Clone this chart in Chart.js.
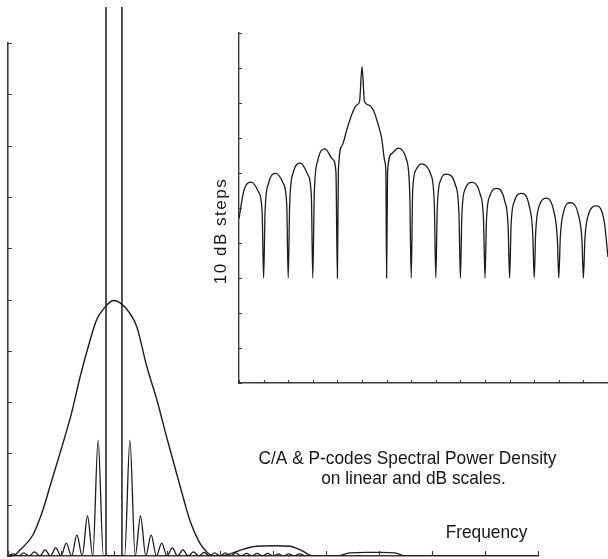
<!DOCTYPE html>
<html>
<head>
<meta charset="utf-8">
<script src="https://cdn.jsdelivr.net/npm/chart.js@4.4.1/dist/chart.umd.min.js"></script>
<style>
  html, body { margin: 0; padding: 0; background: #fff; }
  #wrap { position: relative; width: 608px; height: 559px; }
  #wrap canvas { position: absolute; left: 0; top: 0; }
</style>
</head>
<body>
<div id="wrap">
  <canvas id="linChart" width="608" height="559"></canvas>
  <canvas id="dbChart" width="608" height="559"></canvas>
</div>
<script>
// linear scale plot: P-code envelope (x in tick units, y in tick units)
var pX = [-2.0, -1.91, -1.77, -1.53, -1.34, -1.21, -1.02, -0.80, -0.64, -0.45, -0.33, -0.21, -0.01, 0.11, 0.30, 0.43, 0.62, 0.81, 0.99, 1.25, 1.43, 1.62, 1.75, 1.86, 2.13, 2.40, 2.69, 3.00, 3.32, 3.55, 3.75, 4.20, 4.45, 4.75, 5.05, 5.30, 5.50, 8.0];
var pY = [0, 0, 0.12, 0.41, 0.9, 1.35, 2.0, 2.79, 3.49, 4.21, 4.6, 4.8, 4.98, 4.94, 4.73, 4.47, 3.69, 3.04, 2.33, 1.35, 0.7, 0.25, 0.08, 0, 0.02, 0.12, 0.19, 0.2, 0.19, 0.1, 0, 0, 0.06, 0.07, 0.07, 0.06, 0, 0];

// C/A code side lobes (nulls and peaks)
var caX = [-2.0, -1.9, -1.8, -1.7, -1.6, -1.5, -1.4, -1.3, -1.2, -1.1, -1.0, -0.9, -0.8, -0.7, -0.6, -0.5, -0.4, -0.3, -0.2,
           0.2, 0.3, 0.4, 0.5, 0.6, 0.7, 0.8, 0.9, 1.0, 1.1, 1.2, 1.3, 1.4, 1.5, 1.6, 1.7, 1.8, 1.9, 2.0, 2.1, 2.2, 2.3, 2.4, 2.5, 2.6, 2.7, 2.8, 2.9, 3.0, 3.1, 3.2, 3.3, 3.4, 3.5, 3.6];
var caY = [0, 0.04, 0, 0.06, 0, 0.08, 0, 0.12, 0, 0.16, 0, 0.25, 0, 0.41, 0, 0.78, 0, 2.26, 0,
           0, 2.26, 0, 0.78, 0, 0.41, 0, 0.25, 0, 0.16, 0, 0.12, 0, 0.08, 0, 0.07, 0, 0.06, 0, 0.06, 0, 0.06, 0, 0.05, 0, 0.05, 0, 0.05, 0, 0.04, 0, 0.04, 0, 0.04, 0];

// C/A main lobe, runs off the top of the plot
var caMainX = [-0.15, -0.15, 0, 0.15, 0.15];
var caMainY = [0, 10.7, null, 10.7, 0];

// dB inset: P-code spectrum (x in null spacings, y in dB)
var dbX = [-5, -4.8, -4.5, -4.2, -4.06, -4, -3.94, -3.8, -3.5, -3.2, -3.06, -3, -2.94, -2.8, -2.5, -2.2, -2.06, -2,
           -1.94, -1.8, -1.5, -1.2, -1.06, -1, -0.96, -0.8, -0.62, -0.4, -0.22, -0.1, 0, 0.1, 0.25, 0.46, 0.65, 0.8, 0.93, 0.97, 1,
           1.04, 1.2, 1.48, 1.8, 1.94, 2, 2.06, 2.2, 2.43, 2.8, 2.94, 3, 3.06, 3.2, 3.44, 3.8, 3.94, 4, 4.06, 4.2, 4.46, 4.8, 4.94, 5,
           5.06, 5.2, 5.48, 5.8, 5.94, 6, 6.06, 6.2, 6.49, 6.8, 6.94, 7, 7.06, 7.2, 7.51, 7.8, 7.94, 8, 8.06, 8.2, 8.46, 8.8, 8.94, 9,
           9.06, 9.2, 9.54, 9.85, 10];
var dbY = [-53, -45, -42.6, -45.5, -51, -70, -51, -43, -40.1, -43, -49, -70, -49, -40, -37.2, -40.5, -46.3, -70,
           -46, -36.5, -33.1, -36, -39.6, -70, -39.1, -32, -27.7, -23, -20.6, -19.6, -9.6, -19.6, -20.5, -22, -26, -30.1, -36.8, -39.6, -70,
           -39.6, -34.5, -32.9, -36, -45.8, -70, -44.9, -39, -37.4, -40.5, -49.1, -70, -50, -42, -40.3, -43.5, -51.5, -70, -52, -44.5, -42.7, -46, -53.4, -70,
           -53.4, -46.5, -44.4, -48, -55.3, -70, -55, -48, -45.8, -49.5, -57.2, -70, -57, -49.5, -47.2, -51, -58.7, -70, -58.5, -51, -48.5, -52, -59.1, -70,
           -59, -52, -49.4, -54, -64];

function pts(xs, ys) {
    var out = [];
    for (var i = 0; i < xs.length; i++) out.push({x: xs[i], y: ys[i]});
    return out;
}

// tick marks pointing into the plot area
var innerTicks = {
    id: 'innerTicks',
    afterDraw: function(chart, args, opts) {
        var ctx = chart.ctx, a = chart.chartArea;
        var sx = chart.scales.x, sy = chart.scales.y;
        ctx.save();
        ctx.strokeStyle = opts.color;
        ctx.lineWidth = opts.width;
        ctx.beginPath();
        sx.ticks.forEach(function(t) {
            var px = Math.round(sx.getPixelForValue(t.value)) + 0.5;
            ctx.moveTo(px, a.bottom);
            ctx.lineTo(px, a.bottom - opts.xLen);
        });
        sy.ticks.forEach(function(t) {
            var py = Math.round(sy.getPixelForValue(t.value)) + 0.5;
            ctx.moveTo(a.left, py);
            ctx.lineTo(a.left + opts.yLen, py);
        });
        ctx.stroke();
        ctx.restore();
    }
};

// free text on the figure
var notes = {
    id: 'notes',
    afterDraw: function(chart, args, opts) {
        var ctx = chart.ctx;
        opts.items.forEach(function(it) {
            ctx.save();
            ctx.font = it.size + 'px "Liberation Sans", Arial, sans-serif';
            ctx.fillStyle = '#161616';
            ctx.textAlign = 'center';
            ctx.textBaseline = it.baseline || 'alphabetic';
            if (it.spacing) ctx.letterSpacing = it.spacing + 'px';
            ctx.translate(it.x, it.y);
            if (it.rotate) ctx.rotate(it.rotate);
            ctx.scale(it.sx || 1, 1);
            ctx.fillText(it.text, 0, 0);
            ctx.restore();
        });
    }
};

var axisStyle = {
    ticks: { display: false, stepSize: 1 },
    grid: { display: false, drawTicks: false },
    border: { color: '#3a3a3a', width: 1.6 }
};

new Chart(document.getElementById('linChart'), {
    type: 'line',
    data: {
        datasets: [{
            data: pts(pX, pY),
            borderColor: '#1c1c1c',
            borderWidth: 1.4,
            cubicInterpolationMode: 'monotone'
        }, {
            data: pts(caX, caY),
            borderColor: '#1c1c1c',
            borderWidth: 1.3,
            cubicInterpolationMode: 'monotone'
        }, {
            data: pts(caMainX, caMainY),
            borderColor: '#1c1c1c',
            borderWidth: 1.5,
            tension: 0,
            spanGaps: false,
            clip: { left: 5, top: 40, right: 5, bottom: 5 }
        }]
    },
    options: {
        responsive: false,
        animation: false,
        layout: { padding: { left: 8, right: 70, top: 43, bottom: 3 } },
        elements: { point: { radius: 0 } },
        plugins: {
            legend: { display: false },
            tooltip: { enabled: false },
            innerTicks: { color: '#3a3a3a', width: 1.2, xLen: 5, yLen: 4 },
            notes: { items: [
                { text: 'C/A & P-codes Spectral Power Density', x: 407.5, y: 464, size: 19, sx: 0.91 },
                { text: 'on linear and dB scales.', x: 413.5, y: 483.5, size: 19, sx: 0.91 },
                { text: 'Frequency', x: 486.5, y: 537.5, size: 19, sx: 0.91 }
            ] }
        },
        scales: {
            x: Object.assign({ type: 'linear', min: -2, max: 8 }, axisStyle),
            y: Object.assign({ min: 0, max: 10 }, axisStyle)
        }
    },
    plugins: [innerTicks, notes]
});

new Chart(document.getElementById('dbChart'), {
    type: 'line',
    data: {
        datasets: [{
            data: pts(dbX, dbY),
            borderColor: '#1c1c1c',
            borderWidth: 1.3,
            cubicInterpolationMode: 'monotone'
        }]
    },
    options: {
        responsive: false,
        animation: false,
        layout: { padding: { left: 239, right: 0, top: 33, bottom: 176 } },
        elements: { point: { radius: 0 } },
        plugins: {
            legend: { display: false },
            tooltip: { enabled: false },
            innerTicks: { color: '#3a3a3a', width: 1.1, xLen: 3, yLen: 3 },
            notes: { items: [
                { text: '10 dB steps', x: 221, y: 231, size: 17, rotate: -Math.PI / 2, baseline: 'middle', spacing: 1.5 }
            ] }
        },
        scales: {
            x: { type: 'linear', min: -5, max: 10, ticks: { display: false, stepSize: 1 }, grid: { display: false, drawTicks: false }, border: { color: '#3a3a3a', width: 1.4 } },
            y: { min: -100, max: 0, ticks: { display: false, stepSize: 10 }, grid: { display: false, drawTicks: false }, border: { color: '#3a3a3a', width: 1.4 } }
        }
    },
    plugins: [innerTicks, notes]
});
</script>
</body>
</html>
